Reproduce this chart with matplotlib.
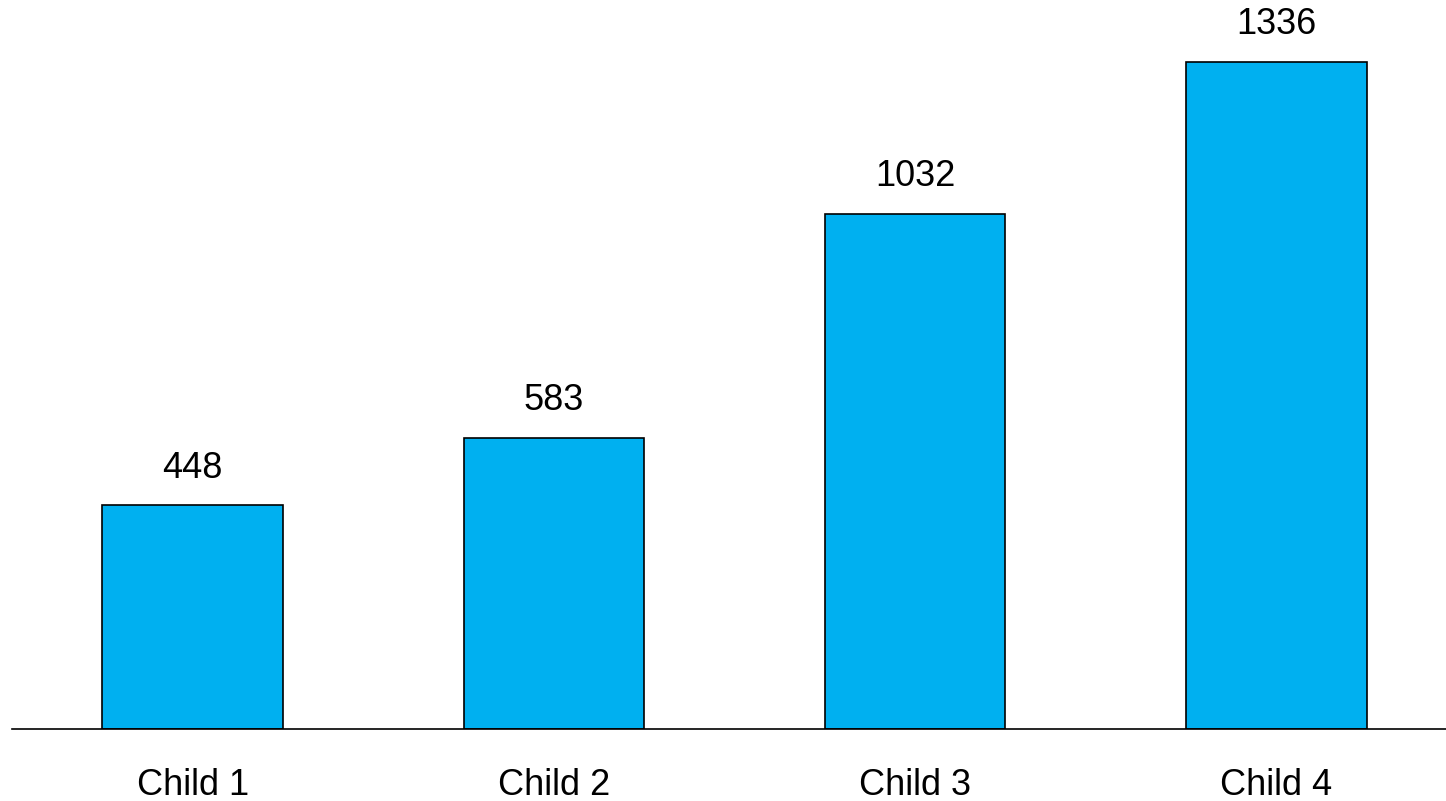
import matplotlib.pyplot as plt

children = ['Child 1', 'Child 2', 'Child 3', 'Child 4']
counts = [448, 583, 1032, 1336]

plt.rcParams['font.family'] = ['Liberation Sans', 'DejaVu Sans']

fig = plt.figure(figsize=(14.46, 8.01), dpi=100)
ax = fig.add_axes([12 / 1446, 1 - 729 / 801, 1 - 12 / 1446, 729 / 801])

bars = ax.bar(range(len(children)), counts, width=0.5, color='#00B0F0',
              edgecolor='black', linewidth=1.2)

for b, v in zip(bars, counts):
    ax.annotate(str(v), (b.get_x() + b.get_width() / 2, v),
                xytext=(0, 14), textcoords='offset points',
                ha='center', va='bottom', fontsize=26)

ax.set_xlim(-0.5, 3.47)
ax.set_ylim(0, 1460)
ax.set_xticks(range(len(children)))
ax.set_xticklabels(children, fontsize=26)
ax.tick_params(axis='x', length=0, pad=28)
ax.set_yticks([])
for s in ['top', 'right', 'left']:
    ax.spines[s].set_visible(False)
ax.spines['bottom'].set_linewidth(1.2)

fig.savefig('out.png', dpi=100)
